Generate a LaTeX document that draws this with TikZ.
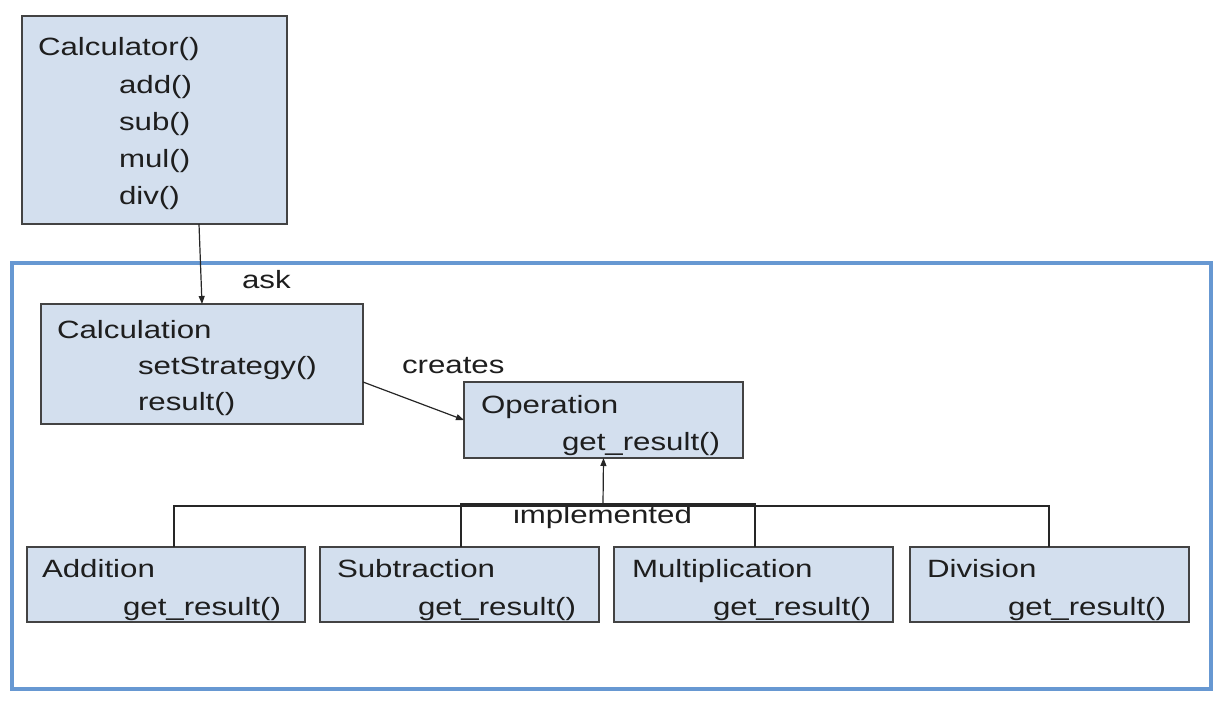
\documentclass[tikz,border=0pt]{standalone}
\usepackage{fontspec}
\setmainfont{Liberation Sans}[FakeStretch=1.25]
\usetikzlibrary{arrows.meta}
\definecolor{boxfill}{RGB}{211,223,238}
\definecolor{boxline}{RGB}{67,67,67}
\definecolor{frameblue}{RGB}{103,152,210}
\definecolor{txtcol}{RGB}{30,30,30}
\tikzset{
  umlbox/.style={draw=boxline, fill=boxfill, line width=1.5pt, inner sep=0pt, outer sep=0pt, anchor=north west},
  txt/.style={anchor=base west, inner sep=0pt, outer sep=0pt, text=txtcol, font=\fontsize{25}{37}\selectfont},
  conn/.style={draw=black!85, line width=1.2pt},
  arr/.style={conn, -{Triangle[length=8pt,width=6pt]}}
}
\begin{document}
\begin{tikzpicture}[x=1pt,y=-1pt]
\useasboundingbox (0,0) rectangle (1230,704);
% frame
\node[draw=frameblue, line width=3.5pt, inner sep=0pt, outer sep=0pt, anchor=north west, minimum width=1199pt, minimum height=426pt] (frame) at (12,263) {};
% boxes
\node[umlbox, minimum width=265pt, minimum height=208pt] (calcr) at (22,16) {};
\node[umlbox, minimum width=322pt, minimum height=120pt] (calcn) at (41,304) {};
\node[umlbox, minimum width=279pt, minimum height=76pt] (op) at (464,382) {};
\node[umlbox, minimum width=278pt, minimum height=75pt] (addb) at (27,547) {};
\node[umlbox, minimum width=279pt, minimum height=75pt] (subb) at (320,547) {};
\node[umlbox, minimum width=279pt, minimum height=75pt] (mulb) at (614,547) {};
\node[umlbox, minimum width=279pt, minimum height=75pt] (divb) at (910,547) {};
% texts
\node[txt] (t1) at (38,55) {Calculator()};
\node[txt] (t2) at (119,93) {add()};
\node[txt] (t3) at (119,130) {sub()};
\node[txt] (t4) at (119,167) {mul()};
\node[txt] (t5) at (119,204) {div()};
\node[txt] (t6) at (57,338) {Calculation};
\node[txt] (t7) at (138,374) {setStrategy()};
\node[txt] (t8) at (138,410) {result()};
\node[txt] (t9) at (481,413) {Operation};
\node[txt] (t10) at (562,450) {get\_result()};
\node[txt] (t11) at (42,577) {Addition};
\node[txt] (t12) at (123,615) {get\_result()};
\node[txt] (t13) at (337,577) {Subtraction};
\node[txt] (t14) at (418,615) {get\_result()};
\node[txt] (t15) at (632,577) {Multiplication};
\node[txt] (t16) at (713,615) {get\_result()};
\node[txt] (t17) at (927,577) {Division};
\node[txt] (t18) at (1008,615) {get\_result()};
\node[txt] (ask) at (242,288) {ask};
\node[txt] (creates) at (402,373) {creates};
\node[txt] (impl) at (513,523) {implemented};
% connectors
\draw[arr] ([xshift=177pt]calcr.south west) -- ([xshift=161pt]calcn.north west);
\draw[arr] ([yshift=-18pt]calcn.east) -- (op.west);
\coordinate (bus) at (603,504);
\coordinate (bus2) at (603,506);
\draw[conn] ([xshift=147pt]addb.north west) |- (bus2) -| ([xshift=139pt]divb.north west);
\draw[conn] ([xshift=141pt]subb.north west) |- (bus) -| ([xshift=141pt]mulb.north west);
\draw[arr] (bus) -- (op.south);
\end{tikzpicture}
\end{document}
